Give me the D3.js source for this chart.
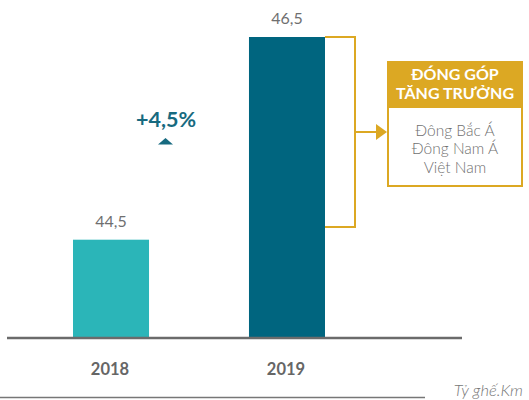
<!DOCTYPE html>
<html>
<head>
<meta charset="utf-8">
<script src="https://cdn.jsdelivr.net/npm/d3@7"></script>
<style>
  html, body { margin: 0; padding: 0; background: #fff; }
  svg { display: block; font-family: Lato, "Open Sans", sans-serif; }
</style>
</head>
<body>
<svg id="chart" width="529" height="400"></svg>
<script>
// Capacity (billion seat-km) by year
const years = ["2018", "2019"];
const capacity = [44.5, 46.5];
const valueLabels = ["44,5", "46,5"];
const growthLabel = "+4,5%";
const contributorTitle = ["ĐÓNG GÓP", "TĂNG TRƯỞNG"];
const contributors = ["Đông Bắc Á", "Đông Nam Á", "Việt Nam"];
const unitLabel = "Tỷ ghế.Km";
const barColors = ["#2bb5b8", "#00657f"];

const gold = "#dca823";
const gray = "#6f6f6f";

const svg = d3.select("#chart");

// Truncated value axis: bars start from a floor below the smallest value
const axisFloor = 43.54;
const y = d3.scaleLinear().domain([axisFloor, 46.5]).range([337, 37]);
const x = d3.scaleBand().domain(years).range([73, 325]).paddingInner(0.568).paddingOuter(0);

// Bars
svg.selectAll("rect.bar")
  .data(years)
  .join("rect")
  .attr("class", "bar")
  .attr("x", d => x(d))
  .attr("width", x.bandwidth())
  .attr("y", (d, i) => y(capacity[i]))
  .attr("height", (d, i) => y(axisFloor) - y(capacity[i]))
  .attr("fill", (d, i) => barColors[i]);

// Value labels
svg.selectAll("text.val")
  .data(years)
  .join("text")
  .attr("class", "val")
  .attr("x", d => x(d) + x.bandwidth() / 2)
  .attr("y", (d, i) => y(capacity[i]) - 13)
  .attr("text-anchor", "middle")
  .attr("font-size", 16)
  .attr("fill", gray)
  .text((d, i) => valueLabels[i]);

// Baseline
svg.append("line")
  .attr("x1", 7).attr("x2", 462)
  .attr("y1", y(axisFloor) + 1).attr("y2", y(axisFloor) + 1)
  .attr("stroke", "#6b6b6b").attr("stroke-width", 2.5);

// Category axis labels
svg.selectAll("text.year")
  .data(years)
  .join("text")
  .attr("class", "year")
  .attr("x", d => x(d) + x.bandwidth() / 2 - 1)
  .attr("y", 375)
  .attr("text-anchor", "middle")
  .attr("font-size", 16.5)
  .attr("font-weight", "bold")
  .attr("fill", "#666")
  .text(d => d);

// Growth annotation between the bars
const midX = (x(years[0]) + x(years[1]) + x.bandwidth()) / 2;
svg.append("text")
  .attr("x", midX - 33)
  .attr("y", 127)
  .attr("text-anchor", "middle")
  .attr("font-size", 21.5)
  .attr("font-weight", "bold")
  .attr("fill", "#176a80")
  .text(growthLabel);
const tx = midX - 33.5, ty = 138;
svg.append("path")
  .attr("d", `M${tx - 7.5},${ty + 6.5} L${tx + 7.5},${ty + 6.5} L${tx},${ty} Z`)
  .attr("fill", "#176a80");

// Bracket alongside the 2019 bar
const barRight = x(years[1]) + x.bandwidth();
const bTop = y(capacity[1]);
const bBottom = 227;
const bX = 355;
const bMid = (bTop + bBottom) / 2;
svg.append("path")
  .attr("d", `M${barRight},${bTop} H${bX} V${bBottom} H${barRight}`)
  .attr("fill", "none")
  .attr("stroke", gold).attr("stroke-width", 2);
svg.append("line")
  .attr("x1", bX).attr("x2", 377)
  .attr("y1", bMid).attr("y2", bMid)
  .attr("stroke", gold).attr("stroke-width", 2);
svg.append("path")
  .attr("d", `M376,${bMid - 8} L387,${bMid} L376,${bMid + 8} Z`)
  .attr("fill", gold);

// Contributors box
const boxX = 387, boxW = 136;
svg.append("rect")
  .attr("x", boxX).attr("y", 61).attr("width", boxW).attr("height", 46)
  .attr("fill", gold);
svg.append("rect")
  .attr("x", boxX + 1).attr("y", 107).attr("width", boxW - 2).attr("height", 79)
  .attr("fill", "#fff").attr("stroke", gold).attr("stroke-width", 2);

svg.selectAll("text.title")
  .data(contributorTitle)
  .join("text")
  .attr("class", "title")
  .attr("x", boxX + boxW / 2)
  .attr("y", (d, i) => 80 + i * 19)
  .attr("text-anchor", "middle")
  .attr("font-size", 16)
  .attr("font-weight", "bold")
  .attr("fill", "#fff")
  .text(d => d);

svg.selectAll("text.contrib")
  .data(contributors)
  .join("text")
  .attr("class", "contrib")
  .attr("x", boxX + boxW / 2)
  .attr("y", (d, i) => 135.5 + i * 18.5)
  .attr("text-anchor", "middle")
  .attr("font-size", 15.5)
  .attr("font-weight", 300)
  .attr("fill", "#707070")
  .text(d => d);

// Unit footer
svg.append("line")
  .attr("x1", 0).attr("x2", 425)
  .attr("y1", 397.5).attr("y2", 397.5)
  .attr("stroke", "#777").attr("stroke-width", 1.5);
svg.append("text")
  .attr("x", 523)
  .attr("y", 396)
  .attr("text-anchor", "end")
  .attr("font-size", 16.5)
  .attr("font-style", "italic")
  .attr("font-weight", 300)
  .attr("fill", "#777")
  .text(unitLabel);
</script>
</body>
</html>
